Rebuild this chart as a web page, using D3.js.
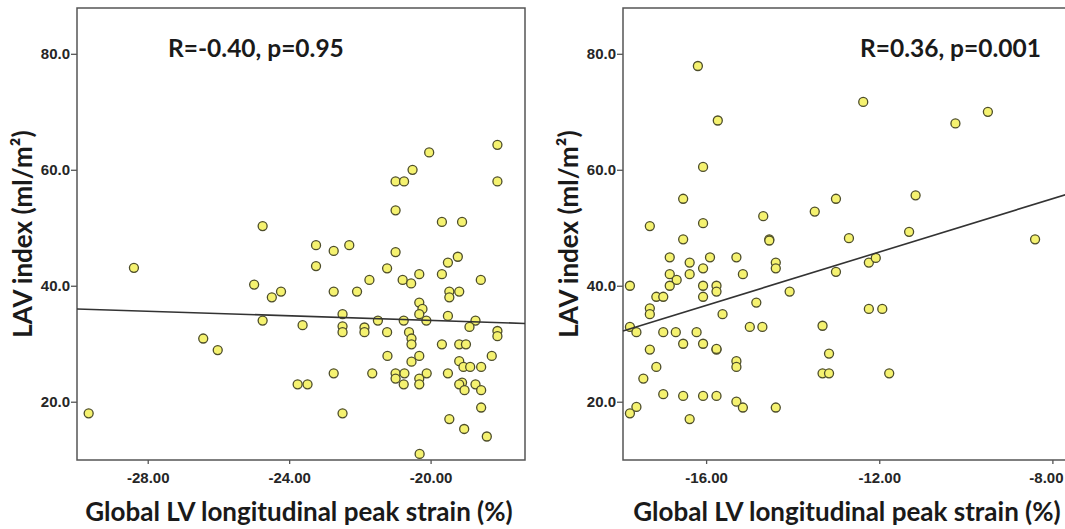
<!DOCTYPE html>
<html>
<head>
<meta charset="utf-8">
<script src="https://cdn.jsdelivr.net/npm/d3@7"></script>
<style>
  body { margin: 0; background: #fff; }
  svg { display: block; background: #fff; }
  .tick text { font-family: "Liberation Sans", Arial, sans-serif; font-weight: bold; font-size: 15px; fill: #262626; }
  .tick line { stroke: #555; stroke-width: 1.3px; }
  .title { font-family: Lato, "Open Sans", sans-serif; font-weight: bold; fill: #1a1a1a; }
</style>
</head>
<body>
<svg id="chart" width="1065" height="529"></svg>
<script>
// left panel: strain (%) vs LAV index
const leftStrain = [
  -24.75, -28.39, -24.99, -24.49, -24.23, -24.75, -26.43, -26.02, -29.67, -20.04,
  -18.11, -20.51, -20.99, -20.75, -18.11, -20.99, -19.68, -19.11, -23.24, -22.74,
  -22.30, -20.99, -19.23, -19.51, -23.24, -21.23, -21.73, -20.79, -20.55, -20.32,
  -19.68, -18.58, -22.74, -22.08, -19.47, -19.19, -19.47, -20.32, -20.23, -22.49,
  -20.32, -19.51, -23.62, -21.49, -20.76, -20.12, -18.73, -22.49, -22.49, -21.87,
  -21.87, -21.23, -20.61, -18.90, -18.11, -18.11, -20.54, -20.54, -19.68, -19.19,
  -19.00, -21.22, -20.32, -18.27, -20.54, -19.19, -19.07, -18.88, -18.57, -22.74,
  -21.65, -20.99, -20.74, -20.99, -20.11, -19.51, -20.32, -20.76, -20.32, -19.11,
  -19.19, -19.04, -18.73, -18.57, -23.76, -23.48, -18.57, -22.49, -19.47, -19.05,
  -18.41, -20.31
];
const leftLav = [
  50.3, 43.1, 40.2, 38.0, 39.0, 34.0, 30.9, 28.9, 18.0, 63.0,
  64.3, 60.0, 58.0, 58.0, 58.0, 53.0, 51.0, 51.0, 47.0, 46.0,
  47.0, 45.8, 45.0, 44.0, 43.4, 43.0, 41.0, 41.0, 40.4, 42.0,
  42.0, 41.0, 39.0, 39.0, 39.0, 39.0, 38.0, 37.1, 36.0, 35.1,
  35.1, 34.8, 33.2, 34.0, 34.0, 34.0, 34.0, 33.0, 32.0, 32.8,
  32.0, 32.0, 32.0, 32.9, 32.2, 31.3, 30.9, 29.9, 29.9, 29.9,
  29.9, 27.9, 27.9, 27.9, 26.9, 27.0, 26.0, 26.0, 26.0, 24.9,
  24.9, 24.9, 24.9, 24.0, 24.9, 24.9, 24.0, 23.0, 23.0, 23.3,
  23.0, 22.0, 23.0, 22.0, 23.0, 23.0, 19.0, 18.0, 17.0, 15.3,
  14.0, 11.0
];

// right panel
const rightStrain = [
  -16.19, -12.37, -9.49, -10.24, -15.73, -16.07, -16.53, -13.00, -11.16, -13.49,
  -14.68, -17.30, -16.07, -16.53, -14.54, -14.54, -12.70, -11.31, -8.40, -16.84,
  -16.38, -15.91, -15.30, -16.07, -16.84, -16.68, -16.38, -15.15, -14.39, -14.39,
  -16.84, -16.07, -15.76, -15.76, -17.76, -17.15, -16.99, -16.07, -14.07, -14.84,
  -17.30, -17.30, -15.62, -17.76, -17.61, -16.99, -16.70, -16.22, -14.99, -14.70,
  -16.53, -16.07, -15.76, -15.76, -17.30, -15.30, -15.30, -17.15, -17.45, -16.99,
  -16.53, -16.07, -15.76, -15.30, -15.15, -14.39, -17.61, -17.76, -16.38, -13.00,
  -12.24, -12.08, -12.24, -11.93, -13.31, -13.16, -13.31, -13.16, -11.77
];
const rightLav = [
  77.9, 71.7, 70.0, 68.0, 68.5, 60.5, 55.0, 55.0, 55.6, 52.8,
  52.0, 50.3, 50.8, 48.0, 48.0, 47.8, 48.2, 49.3, 48.0, 44.9,
  44.0, 44.9, 44.9, 43.0, 42.0, 41.0, 42.0, 42.0, 44.0, 43.0,
  40.0, 40.0, 40.0, 39.0, 40.0, 38.1, 38.1, 38.1, 39.0, 37.1,
  36.1, 35.1, 35.1, 32.9, 32.0, 32.0, 32.0, 32.0, 32.9, 32.9,
  30.0, 30.0, 29.0, 29.1, 29.0, 27.0, 26.0, 26.0, 24.0, 21.3,
  21.0, 21.0, 21.0, 20.0, 19.0, 19.0, 19.1, 18.0, 17.0, 42.4,
  44.0, 44.8, 36.0, 36.0, 33.1, 28.3, 24.9, 24.9, 24.9
];

// fitted lines: [strain, lav] at both ends
const leftFit = [[-30.0, 36.0], [-17.33, 33.5]];
const rightFit = [[-17.92, 32.2], [-7.57, 56.0]];

const yTicks = [20, 40, 60, 80];
const leftXTicks = [-28, -24, -20];
const rightXTicks = [-16, -12, -8];

const leftLabel = 'R=-0.40, p=0.95';
const rightLabel = 'R=0.36, p=0.001';
const xTitle = 'Global LV longitudinal peak strain (%)';
const yTitle = 'LAV index (ml/m\u00B2)';

const svg = d3.select('#chart');
const svgW = +svg.attr('width');
const plotTop = 8, plotBottom = 460, plotW = 448;
const yDomain = [9.95, 87.9];

function panel(opts) {
  const x = d3.scaleLinear().domain(opts.xDomain).range([opts.left, opts.left + plotW]);
  const y = d3.scaleLinear().domain(yDomain).range([plotBottom, plotTop]);
  const g = svg.append('g');

  g.append('g')
    .attr('transform', `translate(${opts.left},0)`)
    .call(d3.axisLeft(y).tickValues(yTicks).tickFormat(d => d.toFixed(1)).tickSize(6).tickPadding(1))
    .call(a => a.select('.domain').remove());

  const xAxis = g.append('g')
    .attr('transform', `translate(0,${plotBottom})`)
    .call(d3.axisBottom(x).tickValues(opts.xTicks).tickFormat(d => d.toFixed(2)).tickSize(4).tickPadding(8))
    .call(a => a.select('.domain').remove());

  // keep the last tick label inside the picture
  xAxis.selectAll('.tick').each(function(d) {
    const t = d3.select(this).select('text');
    const box = t.node().getBBox();
    const overflow = x(d) + box.x + box.width - (svgW - 2);
    if (overflow > 0) t.attr('dx', -overflow);
  });

  g.append('rect')
    .attr('x', opts.left).attr('y', plotTop)
    .attr('width', plotW).attr('height', plotBottom - plotTop)
    .attr('fill', 'none').attr('stroke', '#555').attr('stroke-width', 1.5);

  const pts = opts.xs.map((v, i) => [v, opts.ys[i]]);
  g.selectAll('circle.pt')
    .data(pts)
    .join('circle')
    .attr('class', 'pt')
    .attr('cx', d => x(d[0]))
    .attr('cy', d => y(d[1]))
    .attr('r', 4.5)
    .attr('fill', '#f5f270')
    .attr('stroke', '#4d4d2a')
    .attr('stroke-width', 1.3);

  g.append('path')
    .datum(opts.fit)
    .attr('d', d3.line().x(d => x(d[0])).y(d => y(d[1])))
    .attr('fill', 'none')
    .attr('stroke', '#333')
    .attr('stroke-width', 1.6);

  g.append('text')
    .attr('class', 'title')
    .attr('x', opts.left + opts.labelDx)
    .attr('y', 57)
    .style('font-size', '24.5px')
    .text(opts.label);

  g.append('text')
    .attr('class', 'title')
    .attr('x', opts.left + plotW / 2 + opts.titleDx)
    .attr('y', 521)
    .attr('text-anchor', 'middle')
    .style('font-size', '26px')
    .text(xTitle);

  g.append('text')
    .attr('class', 'title')
    .attr('transform', `translate(${opts.left - 45},${(plotTop + plotBottom) / 2}) rotate(-90)`)
    .attr('text-anchor', 'middle')
    .style('font-size', '26px')
    .text(yTitle);
}

panel({
  left: 77, xDomain: [-30.0, -17.33], xTicks: leftXTicks,
  xs: leftStrain, ys: leftLav, fit: leftFit,
  label: leftLabel, labelDx: 91, titleDx: -2
});
panel({
  left: 623, xDomain: [-17.92, -7.57], xTicks: rightXTicks,
  xs: rightStrain, ys: rightLav, fit: rightFit,
  label: rightLabel, labelDx: 237, titleDx: 0
});
</script>
</body>
</html>
